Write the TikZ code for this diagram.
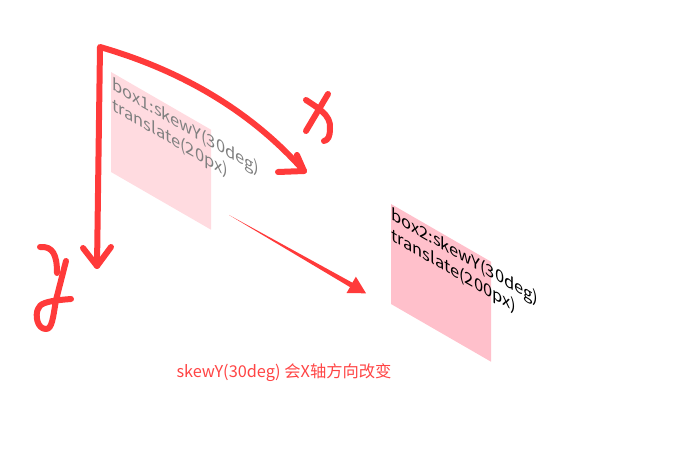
\documentclass[tikz,border=0pt]{standalone}
\usepackage{fontspec}
\setmainfont{Noto Sans CJK SC}
\definecolor{penred}{HTML}{FF3A3A}
\definecolor{boxpink}{HTML}{FFC0CB}
\definecolor{boxpale}{HTML}{FFDBE0}
\definecolor{notered}{HTML}{FF4444}

\tikzset{
    handstroke/.style = {draw = penred, line width = 6pt,
        line cap = round, line join = round},
    skewtext/.style = {yslant = -0.57735, anchor = north west, align = left,
        inner sep = 0pt, font = \fontsize{16.5}{20.5}\selectfont}
}

\begin{document}
\begin{tikzpicture}[x=1pt, y=-1pt]
    \useasboundingbox (0,0) rectangle (673,457);

    % box1, light
    \fill [boxpale] (111,72) -- (211,129.7) -- (211,229.7) -- (111,172) -- cycle;
    \node (boxa) [skewtext, text = gray] at (112,76)
        {box1:skewY(30deg)\\translate(20px)};

    % box2
    \fill [boxpink] (391,204) -- (491,261.7) -- (491,361.7) -- (391,304) -- cycle;
    \node (boxb) [skewtext] at (391,206)
        {box2:skewY(30deg)\\translate(200px)};

    % hand drawn axes
    \coordinate (O) at (100,47);
    \coordinate (Ytip) at (97,266);
    \coordinate (Xtip) at (304,171);
    \draw [handstroke] (Ytip) -- (O) .. controls (180,70) and (250,110) .. (Xtip);
    \draw [handstroke] (83,248) -- (Ytip) -- (111,247);
    \draw [handstroke] (278,172) -- (Xtip) -- (297,155);

    % letter x
    \draw [handstroke] (306,100) .. controls (318,108) and (331,115) .. (330,128)
        .. controls (330,137) and (328,140) .. (324,141);
    \draw [handstroke] (328,94) -- (306,131);

    % letter y
    \draw [handstroke] (40,247) .. controls (53,246) and (57,255) .. (57,273);
    \draw [handstroke] (66,261) -- (56,300) .. controls (53,318) and (52,329) .. (46,329)
        .. controls (37,329) and (35,315) .. (38,309)
        .. controls (40,304) and (44,301) .. (71,299);

    % thin arrow between the boxes
    \coordinate (tail) at (229,215);
    \coordinate (tip) at (366,293.3);
    \fill [penred] (tail) -- (352.4,282.7) -- (355.9,276.7) -- (tip)
        -- (346.5,293.1) -- (350,287.1) -- cycle;

    \node (caption) [anchor = base west, text = notered,
        font = \fontsize{16.3}{19}\selectfont] at (173,378)
        {skewY(30deg) 会X轴方向改变};
\end{tikzpicture}
\end{document}
